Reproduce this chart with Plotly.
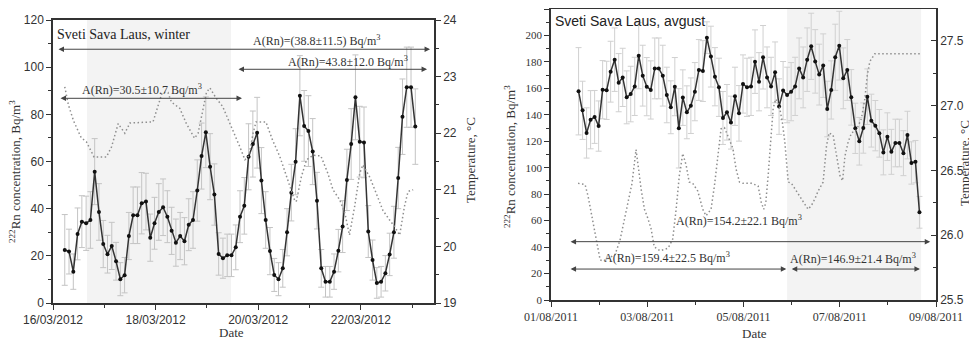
import pandas as pd
import plotly.graph_objects as go

# ---------------- winter (left panel) ----------------
winter_start = "2012-03-16 05:30"
winter_rn = [22.5, 21.8, 13.3, 29.3, 34.5, 33.8, 35.2, 55.7, 38.6, 25.0,
             20.7, 24.2, 17.7, 10.1, 11.8, 28.4, 37.2, 37.2, 42.3, 43.0,
             27.7, 33.8, 38.6, 40.6, 36.6, 30.6, 25.6, 28.4, 26.2, 33.2,
             35.2, 47.7, 62.3, 72.4, 57.8, 46.0, 20.8, 19.0, 20.2, 20.2,
             23.6, 36.6, 41.2, 62.0, 67.4, 72.2, 51.9, 35.2, 22.0, 11.9,
             10.1, 14.7, 30.0, 46.8, 59.9, 87.9, 75.1, 72.9, 64.2, 43.4,
             14.7, 9.0, 9.0, 13.3, 22.2, 32.4, 52.2, 67.4, 87.2, 68.4,
             68.1, 30.3, 18.2, 8.5, 9.0, 12.6, 20.6, 30.0, 53.0, 79.0,
             91.5, 91.5, 74.8]
winter_err = [15, 9.5, 7.5, 11, 11, 11.5, 12, 14, 12, 10,
              8, 10, 8, 7, 7.5, 10, 12, 12, 13, 12,
              10, 11, 12, 12, 11, 10, 10, 10, 10, 11,
              12, 13, 14, 15, 14, 13, 9, 8.5, 9, 9,
              9.5, 11, 12, 14, 14, 15, 14, 12, 10, 7,
              7, 8, 10, 12, 14, 17, 15, 15, 14, 12,
              8, 6.5, 6.5, 7.5, 9, 11, 13, 15, 18, 15,
              15, 11, 8.5, 6.5, 6.5, 7.5, 9, 11, 13, 16,
              17, 17, 16]
winter_temp_hours = [5.5, 7.2, 9.6, 13.2, 15.6, 17.5, 19.2, 25.0, 27.4, 30.5,
                     33.6, 36.0, 46.8, 51.1, 53.8, 55.4, 59.3, 62.4, 66.2, 67.9,
                     71.8, 73.4, 76.3, 79.4, 84.2, 87.4, 89.8, 91.7, 93.6, 95.0,
                     99.6, 102.7, 106.1, 109.2, 113.0, 113.8, 116.2, 118.6, 121.7, 125.3,
                     128.6, 131.0, 134.2, 136.6, 138.7, 141.1, 143.5, 145.0, 148.1, 151.2,
                     154.3, 157.4, 159.8, 162.2, 164.4, 166.1, 168.5]
winter_temp = [22.82, 22.5, 22.22, 21.92, 21.85, 21.7, 21.58, 21.58, 21.76, 22.17,
               22.0, 22.18, 22.2, 22.72, 22.72, 22.55, 22.44, 22.17, 21.91, 22.0,
               22.72, 22.8, 22.62, 22.47, 22.06, 21.76, 21.53, 21.6, 22.0, 22.2,
               22.2, 21.88, 21.59, 21.23, 20.82, 20.79, 21.23, 21.53, 21.61, 21.6,
               21.29, 21.0, 20.82, 20.58, 20.2, 20.7, 21.29, 21.44, 21.23, 20.94,
               20.64, 20.47, 20.35, 20.2, 20.7, 20.97, 21.0]

# ---------------- august (right panel) ----------------
aug_start = "2011-08-01 13:45"
aug_rn = [157.8, 143.4, 126.3, 136.3, 138.4, 131.5, 159.0, 158.5, 172.6, 181.7,
          164.3, 168.3, 153.2, 155.7, 161.5, 184.7, 169.6, 161.3, 158.8, 175.1,
          175.1, 169.6, 155.0, 145.7, 161.3, 129.8, 153.0, 141.9, 146.9, 157.5,
          173.9, 173.1, 198.3, 184.0, 168.8, 160.8, 137.6, 141.9, 134.1, 154.0,
          141.1, 163.3, 160.8, 161.5, 180.2, 165.0, 183.5, 168.3, 161.5, 172.1,
          146.2, 158.3, 155.0, 157.5, 161.5, 175.1, 168.3, 181.7, 191.8, 180.4,
          170.4, 177.2, 144.4, 158.8, 183.5, 192.3, 167.6, 173.9, 153.2, 129.8,
          120.0, 130.0, 153.7, 135.6, 131.8, 126.0, 111.6, 123.5, 112.0, 118.7,
          118.7, 111.0, 124.7, 103.6, 104.6, 66.3]
aug_err = [33, 22, 19, 22, 20, 19, 22, 22, 23, 24,
           22, 22, 20, 21, 22, 25, 23, 22, 22, 23,
           23, 23, 21, 20, 22, 30, 21, 20, 21, 22,
           23, 23, 12, 23, 22, 22, 20, 21, 20, 22,
           21, 22, 22, 22, 24, 22, 24, 23, 22, 23,
           21, 22, 21, 22, 22, 23, 23, 24, 25, 24,
           23, 24, 21, 22, 25, 26, 23, 23, 21, 19,
           18, 19, 21, 20, 19, 18, 17, 18, 17, 18,
           18, 17, 18, 16, 16, 12]
aug_temp_hours = [13.5, 17.0, 18.5, 20.5, 23.0, 24.5, 26.0, 31.9, 34.4, 35.9,
                  37.9, 40.4, 42.4, 42.9, 44.1, 44.9, 46.6, 48.3, 49.9, 51.5,
                  54.4, 58.4, 60.7, 62.4, 64.0, 65.7, 67.4, 68.9, 70.7, 73.2,
                  75.7, 77.3, 79.8, 81.5, 83.2, 84.8, 86.5, 88.2, 90.7, 92.3,
                  94.0, 95.8, 100.0, 103.3, 104.9, 106.1, 107.1, 108.3, 109.4, 110.8,
                  112.1, 113.8, 115.4, 116.6, 118.3, 119.9, 122.4, 124.9, 126.6, 128.2,
                  129.9, 131.6, 133.2, 135.7, 137.4, 138.7, 140.7, 142.4, 144.1, 145.4,
                  146.6, 148.2, 149.9, 152.3, 154.8, 156.5, 157.7, 159.0, 161.5, 184.0]
aug_temp = [26.40, 26.39, 26.30, 26.14, 25.96, 25.81, 25.80, 25.85, 25.96, 26.07,
            26.22, 26.40, 26.66, 26.61, 26.46, 26.36, 26.20, 26.13, 26.05, 25.91,
            25.88, 25.90, 25.97, 26.20, 26.46, 26.63, 26.54, 26.41, 26.40, 26.34,
            26.20, 26.15, 26.20, 26.38, 26.61, 26.82, 26.83, 26.77, 26.67, 26.51,
            26.41, 26.40, 26.40, 26.38, 26.25, 26.20, 26.25, 26.46, 26.72, 26.98,
            27.05, 27.00, 26.87, 26.72, 26.41, 26.40, 26.34, 26.28, 26.23, 26.20,
            26.23, 26.28, 26.34, 26.41, 26.69, 26.79, 26.77, 26.61, 26.46, 26.42,
            26.61, 26.72, 26.79, 26.81, 26.90, 27.05, 27.23, 27.34, 27.40, 27.40]

winter_t = pd.date_range(winter_start, periods=len(winter_rn), freq="2h")
aug_t = pd.date_range(aug_start, periods=len(aug_rn), freq="2h")
winter_tt = pd.Timestamp("2012-03-16") + pd.to_timedelta(winter_temp_hours, unit="h")
aug_tt = pd.Timestamp("2011-08-01") + pd.to_timedelta(aug_temp_hours, unit="h")

# the page body has an 8px margin, so the figure is drawn 8px right/down;
# positions below are given in window pixels and converted.
OFF = 8
W, H = 977 - OFF, 342 - OFF
def px(x): return (x - OFF) / W
def py(y): return 1 - (y - OFF) / H

SERIF = "Liberation Serif, Times New Roman, serif"
SANS = "Liberation Sans, Arial, sans-serif"
AX = "#333333"
ERRC = "#c4c4c4"
DAY = 86400000
TEMP_LINE = dict(color="#8e8e8e", width=1.5, dash="1.5px,2.5px")

fig = go.Figure()

# shaded periods
fig.add_shape(type="rect", xref="x", yref="y domain", x0="2012-03-16 15:55", x1="2012-03-19 11:17",
              y0=0, y1=1, fillcolor="#f3f3f3", line_width=0, layer="below")
fig.add_shape(type="rect", xref="x2", yref="y3 domain", x0="2011-08-05 21:45", x1="2011-08-08 16:34",
              y0=0, y1=1, fillcolor="#f3f3f3", line_width=0, layer="below")

# left panel traces
fig.add_trace(go.Scatter(x=winter_tt, y=winter_temp, mode="lines", yaxis="y2", xaxis="x",
                         line=TEMP_LINE, showlegend=False))
fig.add_trace(go.Scatter(x=winter_t, y=winter_rn, mode="markers", xaxis="x", yaxis="y",
                         marker=dict(size=1, opacity=0),
                         error_y=dict(type="data", array=winter_err, color=ERRC, thickness=1, width=3),
                         showlegend=False))
fig.add_trace(go.Scatter(x=winter_t, y=winter_rn, mode="lines+markers", xaxis="x", yaxis="y",
                         line=dict(color="#333333", width=1.5),
                         marker=dict(color="#111111", size=4), showlegend=False))

# right panel traces
fig.add_trace(go.Scatter(x=aug_tt, y=aug_temp, mode="lines", yaxis="y4", xaxis="x2",
                         line=TEMP_LINE, showlegend=False))
fig.add_trace(go.Scatter(x=aug_t, y=aug_rn, mode="markers", xaxis="x2", yaxis="y3",
                         marker=dict(size=1, opacity=0),
                         error_y=dict(type="data", array=aug_err, color="#d0d0d0", thickness=1, width=3),
                         showlegend=False))
fig.add_trace(go.Scatter(x=aug_t, y=aug_rn, mode="lines+markers", xaxis="x2", yaxis="y3",
                         line=dict(color="#333333", width=1.5),
                         marker=dict(color="#111111", size=4), showlegend=False))

tickfont_sans = dict(family=SANS, size=12, color="#333")
tickfont_serif = dict(family=SERIF, size=12, color="#333")

common_axis = dict(showline=True, linecolor=AX, linewidth=1.5, showgrid=False, zeroline=False,
                   ticks="outside", ticklen=5, tickwidth=1.2, tickcolor=AX, automargin=False)

fig.update_layout(
    width=W, height=H, margin=dict(l=0, r=0, t=0, b=0, autoexpand=False),
    paper_bgcolor="white", plot_bgcolor="rgba(0,0,0,0)",
    xaxis=dict(domain=[px(53), px(434)], anchor="y", type="date",
               range=["2012-03-16 00:00", "2012-03-23 10:15"],
               tick0="2012-03-16", dtick=2 * DAY, tickformat="%d/%m/%Y",
               mirror=True, tickfont=tickfont_sans,
               minor=dict(dtick=DAY, ticks="outside", ticklen=3, tickcolor=AX), **common_axis),
    yaxis=dict(domain=[py(303), py(20)], anchor="x", range=[0, 120], dtick=20,
               tickfont=tickfont_sans,
               minor=dict(dtick=10, ticks="outside", ticklen=3, tickcolor=AX), **common_axis),
    yaxis2=dict(overlaying="y", side="right", anchor="x", range=[19, 24], dtick=1,
                tickfont=tickfont_sans,
                minor=dict(dtick=0.5, ticks="outside", ticklen=3, tickcolor=AX), **common_axis),
    xaxis2=dict(domain=[px(551), px(936)], anchor="y3", type="date",
                range=["2011-08-01 00:00", "2011-08-09 00:00"],
                tick0="2011-08-01", dtick=2 * DAY, tickformat="%d/%m/%Y",
                mirror=True, tickfont=tickfont_serif,
                minor=dict(dtick=DAY, ticks="outside", ticklen=3, tickcolor=AX), **common_axis),
    yaxis3=dict(domain=[py(300), py(9)], anchor="x2", range=[0, 220], dtick=20,
                tickfont=dict(family=SERIF, size=11, color="#333"),
                minor=dict(dtick=10, ticks="outside", ticklen=3, tickcolor=AX), **common_axis),
    yaxis4=dict(overlaying="y3", side="right", anchor="x2", range=[25.5, 27.745], dtick=0.5,
                tickformat=".1f", tickfont=tickfont_sans, automargin=False,
                showline=True, linecolor=AX, linewidth=1.5, showgrid=False, zeroline=False,
                ticks="inside", ticklen=5, tickwidth=1.2, tickcolor=AX,
                minor=dict(dtick=0.25, ticks="inside", ticklen=3, tickcolor=AX)),
)

ARROWC = "#444444"
def darrow(xref, yref, x0, x1, y, side="end+start"):
    fig.add_annotation(xref=xref, yref=yref, axref=xref, ayref=yref,
                       x=x1, y=y, ax=x0, ay=y, text="", showarrow=True,
                       arrowhead=2, arrowsize=1.1, arrowwidth=1, arrowcolor=ARROWC,
                       arrowside=side)

def label(xref, yref, x, y, text):
    fig.add_annotation(xref=xref, yref=yref, x=x, y=y, text=text, showarrow=False,
                       font=dict(family=SERIF, size=12, color="#333"), xanchor="center", yanchor="middle")

# left panel arrows + labels
darrow("x", "y", "2012-03-16 01:52", "2012-03-23 08:24", 107.6)
darrow("x", "y", "2012-03-19 14:05", "2012-03-23 07:00", 99.1)
darrow("x", "y", "2012-03-16 02:48", "2012-03-19 16:25", 86.8)
label("x", "y", "2012-03-21 03:30", 111.2, "A(Rn)=(38.8±11.5) Bq/m<sup>3</sup>")
label("x", "y", "2012-03-21 18:00", 102.6, "A(Rn)=43.8±12.0 Bq/m<sup>3</sup>")
label("x", "y", "2012-03-17 17:38", 90.4, "A(Rn)=30.5±10.7 Bq/m<sup>3</sup>")

# right panel arrows + labels
darrow("x2", "y3", "2011-08-01 09:00", "2011-08-08 21:07", 44.1)
darrow("x2", "y3", "2011-08-01 09:00", "2011-08-05 21:22", 23.4)
darrow("x2", "y3", "2011-08-05 23:18", "2011-08-08 16:00", 23.4)
label("x2", "y3", "2011-08-04 21:48", 60.0, "A(Rn)=154.2±22.1 Bq/m<sup>3</sup>")
label("x2", "y3", "2011-08-03 09:54", 32.5, "A(Rn)=159.4±22.5 Bq/m<sup>3</sup>")
label("x2", "y3", "2011-08-07 06:42", 31.5, "A(Rn)=146.9±21.4 Bq/m<sup>3</sup>")

# panel titles
fig.add_annotation(xref="paper", yref="paper", x=px(55), y=py(34), text="Sveti Sava Laus, winter",
                   showarrow=False, xanchor="left", yanchor="middle",
                   font=dict(family=SERIF, size=14, color="#222"))
fig.add_annotation(xref="paper", yref="paper", x=px(553), y=py(21), text="Sveti Sava Laus, avgust",
                   showarrow=False, xanchor="left", yanchor="middle",
                   font=dict(family=SANS, size=14, color="#222"))

# axis titles
def title(x, y, text, angle=0):
    fig.add_annotation(xref="paper", yref="paper", x=px(x), y=py(y), text=text, showarrow=False,
                       textangle=angle, xanchor="center", yanchor="middle",
                       font=dict(family=SERIF, size=13, color="#333"))

title(15, 172, "<sup>222</sup>Rn concentration, Bq/m<sup>3</sup>", -90)
title(470, 160, "Temperature, °C", -90)
title(231, 332, "Date")
title(510, 157, "<sup>222</sup>Rn concentration, Bq/m<sup>3</sup>", -90)
title(965, 163, "Temperature, °C", -90)
title(754, 333, "Date")

fig.write_html("out.html")
